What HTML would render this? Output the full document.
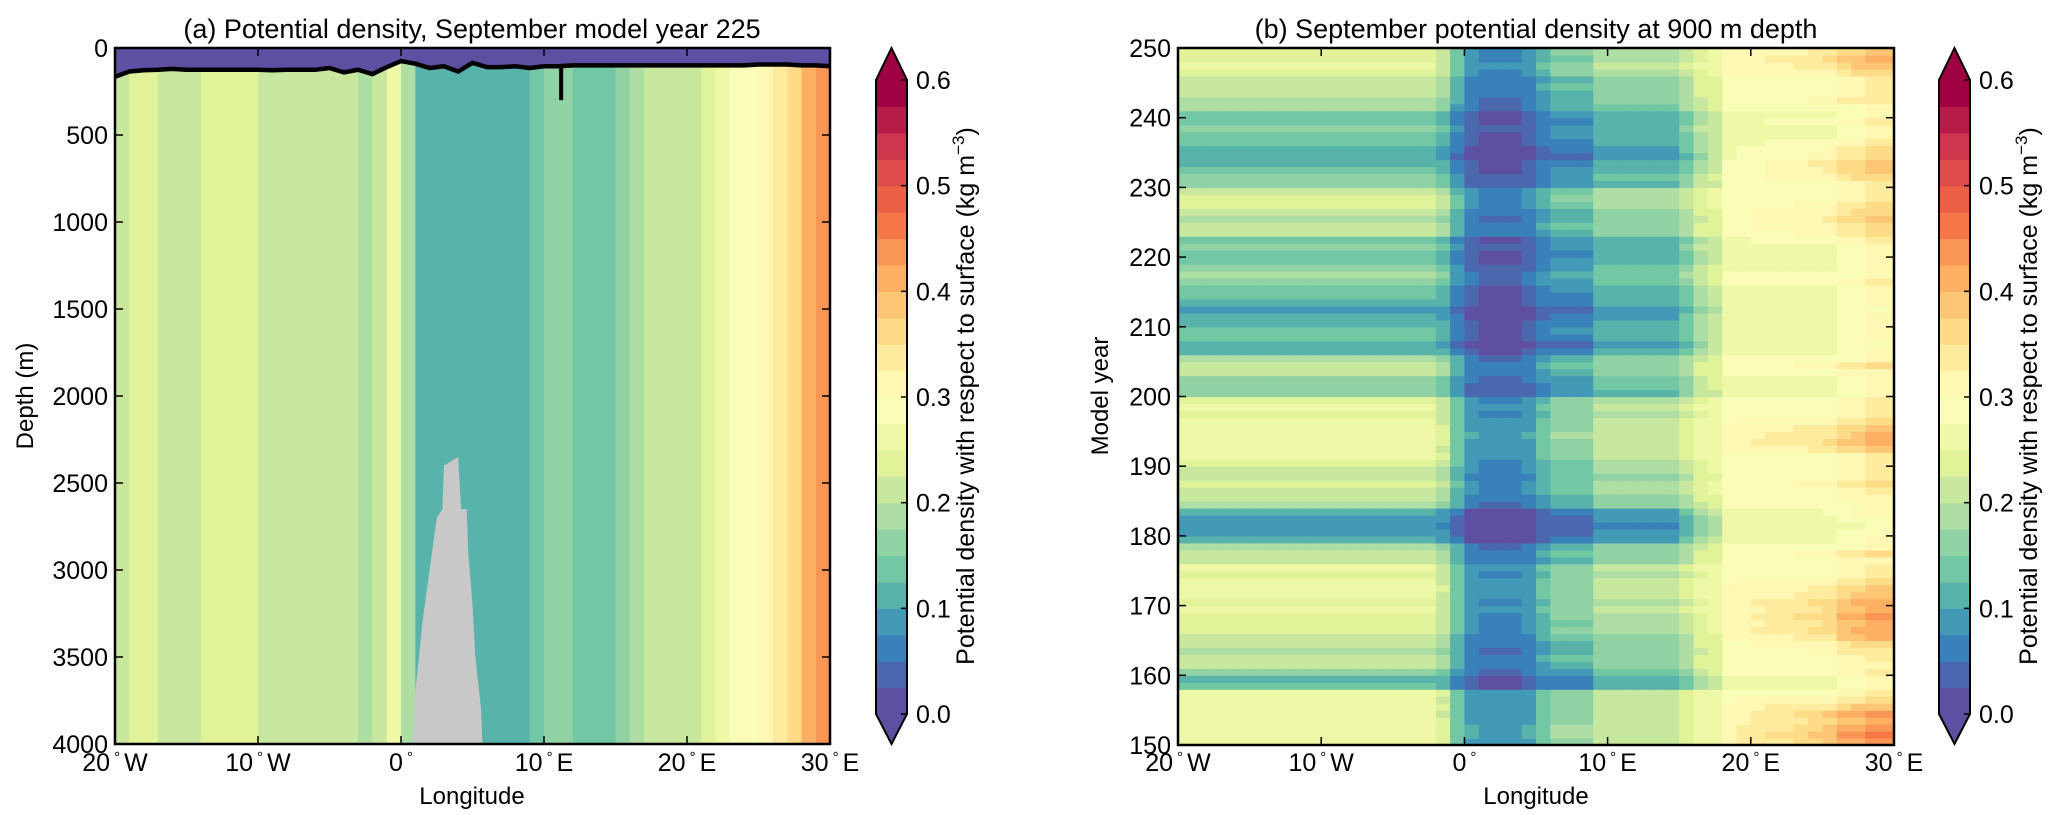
<!DOCTYPE html>
<html><head><meta charset="utf-8"><style>
html,body{margin:0;padding:0;background:#fff;}
svg{display:block;font-family:"Liberation Sans",sans-serif;}
</style></head><body>
<svg id="fig" width="2067" height="827" viewBox="0 0 2067 827" xmlns="http://www.w3.org/2000/svg">
<g id="pa"></g>
<g id="pb"></g>
</svg>
<script>
// ---- data: panel (a) ----
const lonA = [-20,-19,-18,-17,-16,-15,-14,-13,-12,-11,-10,-9,-8,-7,-6,-5,-4,-3,-2,-1,0,1,2,3,4,5,6,7,8,9,10,11,12,13,14,15,16,17,18,19,20,21,22,23,24,25,26,27,28,29];
const rhoA = [0.2,0.24,0.23,0.21,0.21,0.21,0.24,0.24,0.24,0.24,0.21,0.21,0.21,0.21,0.21,0.21,0.2,0.19,0.21,0.26,0.18,0.11,0.1,0.1,0.1,0.1,0.11,0.11,0.11,0.13,0.17,0.16,0.13,0.13,0.14,0.16,0.18,0.2,0.21,0.22,0.22,0.23,0.25,0.28,0.3,0.31,0.34,0.37,0.4,0.43];
const mldLon = [-20,-19,-18,-17,-16,-15,-14,-13,-12,-11,-10,-9,-8,-7,-6,-5,-4,-3,-2,-1,0,1,2,3,4,5,6,7,8,9,10,11,12,13,14,15,16,17,18,19,20,21,22,23,24,25,26,27,28,29,30];
const mldDepth = [165,135,128,125,120,125,125,125,125,125,125,128,125,125,125,115,140,125,150,110,75,90,115,105,135,85,110,110,105,115,105,105,100,100,100,100,100,100,100,100,100,100,100,100,100,95,95,95,100,100,105];
const bathyLon = [0.8,1.0,1.5,2.0,2.5,2.9,3.0,4.0,4.2,4.6,4.7,5.0,5.2,5.6,5.7];
const bathyDepth = [4000,3700,3300,3000,2700,2650,2400,2350,2650,2650,2900,3200,3500,3800,4000];
// ---- data: panel (b) ----
const lonB = lonA;
const baseB = [0.27,0.27,0.27,0.27,0.27,0.27,0.27,0.27,0.27,0.27,0.27,0.27,0.27,0.27,0.27,0.27,0.27,0.27,0.24,0.15,0.1,0.09,0.09,0.09,0.1,0.14,0.18,0.18,0.18,0.22,0.22,0.22,0.22,0.22,0.22,0.24,0.26,0.27,0.3,0.3,0.3,0.3,0.3,0.3,0.3,0.3,0.32,0.32,0.34,0.34];
const wB = [1,1,1,1,1,1,1,1,1,1,1,1,1,1,1,1,1,1,0.9,0.6,0.5,0.5,0.5,0.5,0.5,0.6,0.8,0.8,0.8,0.8,0.8,0.8,0.8,0.8,0.8,0.7,0.5,0.4,0.25,0.25,0.25,0.25,0.25,0.25,0.25,0.25,0.25,0.25,0.25,0.25];
const eastW = [0,0,0,0,0,0,0,0,0,0,0,0,0,0,0,0,0,0,0,0,0,0,0,0,0,0,0,0,0,0,0,0,0,0,0,0,0,0,0.2,0.3,0.4,0.5,0.5,0.6,0.7,0.8,0.9,1,1,1];
const years = [150,151,152,153,154,155,156,157,158,159,160,161,162,163,164,165,166,167,168,169,170,171,172,173,174,175,176,177,178,179,180,181,182,183,184,185,186,187,188,189,190,191,192,193,194,195,196,197,198,199,200,201,202,203,204,205,206,207,208,209,210,211,212,213,214,215,216,217,218,219,220,221,222,223,224,225,226,227,228,229,230,231,232,233,234,235,236,237,238,239,240,241,242,243,244,245,246,247,248,249];
const anomB = [-0.01,0,0,-0.01,-0.02,-0.01,-0.02,-0.01,-0.14,-0.15,-0.1,-0.07,-0.06,-0.08,-0.07,-0.06,-0.03,-0.04,-0.03,-0.02,-0.03,-0.02,-0.01,-0.02,-0.03,-0.02,-0.07,-0.06,-0.08,-0.16,-0.18,-0.19,-0.18,-0.16,-0.08,-0.07,-0.05,-0.04,-0.06,-0.05,-0.04,-0.01,-0.02,-0.01,0,-0.01,-0.02,-0.03,-0.02,-0.03,-0.12,-0.11,-0.1,-0.07,-0.06,-0.08,-0.15,-0.17,-0.14,-0.13,-0.15,-0.16,-0.18,-0.15,-0.14,-0.13,-0.1,-0.09,-0.11,-0.13,-0.14,-0.12,-0.13,-0.07,-0.06,-0.08,-0.07,-0.04,-0.03,-0.05,-0.12,-0.11,-0.13,-0.15,-0.17,-0.16,-0.14,-0.13,-0.12,-0.14,-0.13,-0.09,-0.08,-0.07,-0.06,-0.07,-0.03,-0.02,-0.04,-0.03];
const eastAnomB = [0.1,0.12,0.1,0.08,0.1,0.06,0.02,0,0,0,0.02,0,0,0.03,0.05,0.08,0.09,0.08,0.1,0.07,0.09,0.06,0.04,0.02,0,0,0,0.03,0,0,0,0,0,0.02,0,0,0,0.02,0,0,0,0,0.05,0.07,0.06,0.05,0.02,0,0,0,0,0,0,0,0.03,0,0,0,0,0,0,0,0,0,0,0,0.02,0,0,0,0,0,0.02,0.03,0.04,0.06,0.05,0.02,0,0,0.03,0.06,0.08,0.09,0.07,0.05,0.02,0,0,0.02,0,0,0.03,0.02,0,0.02,0.04,0.06,0.08,0.05];
// ---- ticks ----
const lonTicks = [-20,-10,0,10,20,30];
const lonTickLabels = ["20","10","0","10","20","30"];
const lonTickSuffix = ["W","W","","E","E","E"];
const depthTicks = [0,500,1000,1500,2000,2500,3000,3500,4000];
const yearTicks = [150,160,170,180,190,200,210,220,230,240,250];
const cbTicks = [0.0,0.1,0.2,0.3,0.4,0.5,0.6];

const NS="http://www.w3.org/2000/svg";
function mk(tag, attrs, parent){const e=document.createElementNS(NS,tag);for(const k in attrs)e.setAttribute(k,attrs[k]);parent.appendChild(e);return e;}
const anchors=["#5e4fa2","#3288bd","#66c2a5","#abdda4","#e6f598","#ffffbf","#fee08b","#fdae61","#f46d43","#d53e4f","#9e0142"];
function hex(h){return [parseInt(h.substr(1,2),16),parseInt(h.substr(3,2),16),parseInt(h.substr(5,2),16)];}
function cmap(t){t=Math.max(0,Math.min(1,t));const p=t*10,i=Math.min(9,Math.floor(p)),f=p-i;const a=hex(anchors[i]),b=hex(anchors[i+1]);return "rgb("+a.map((v,k)=>Math.round(v+(b[k]-v)*f)).join(",")+")";}
function bandColor(v){let i=Math.floor(v/0.025);i=Math.max(0,Math.min(23,i));return cmap(i/23);}

function lonTickLabel(g,x,y,i){
  const t=mk("text",{x:x,y:y,"text-anchor":"middle","font-size":"25"},g);
  
  
  const s1=document.createElementNS(NS,"tspan");s1.textContent=lonTickLabels[i];t.appendChild(s1);
  const s2=document.createElementNS(NS,"tspan");s2.textContent="\u00b0";s2.setAttribute("font-size","15");s2.setAttribute("dy","-9");s2.setAttribute("dx","4");t.appendChild(s2);
  const s3=document.createElementNS(NS,"tspan");s3.textContent=lonTickSuffix[i];s3.setAttribute("dy","9");s3.setAttribute("dx","4");t.appendChild(s3);
}

function colorbar(g,x0,x1,top,y06,y00,bot,lx){
  const cb=mk("g",{},g);
  
  
  const h=(y00-y06)/24, xm=(x0+x1)/2;
  for(let i=0;i<24;i++){
    const r=mk("rect",{x:x0,y:y00-(i+1)*h,width:x1-x0,height:h+0.6,fill:cmap(i/23)},cb);
    
    
  }
  mk("polygon",{points:`${x0},${y06} ${xm},${top} ${x1},${y06}`,fill:cmap(1)},cb);
  mk("polygon",{points:`${x0},${y00} ${xm},${bot} ${x1},${y00}`,fill:cmap(0)},cb);
  mk("polygon",{points:`${x0},${y06} ${xm},${top} ${x1},${y06} ${x1},${y00} ${xm},${bot} ${x0},${y00}`,fill:"none",stroke:"#000","stroke-width":"2"},cb);
  cbTicks.forEach(v=>{
    const y=y00-v/0.6*(y00-y06);
    mk("line",{x1:x1-6,x2:x1,y1:y,y2:y,stroke:"#000","stroke-width":"1.5"},cb);
    const t=mk("text",{x:x1+9,y:y+9,"font-size":"25"},cb);t.textContent=v.toFixed(1);
    
    
  });
  const t=mk("text",{x:lx,y:396,"font-size":"25","text-anchor":"middle",transform:`rotate(-90 ${lx} 396)`},cb);
  
  
  t.innerHTML='Potential density with respect to surface (kg m<tspan dy="-10" font-size="17">\u22123</tspan><tspan dy="10">)</tspan>';
}

// ===== Panel A =====
(function(){
  const g=document.getElementById("pa");
  const L=115,R=830,T=48,B=744;
  const xA=lon=>L+(lon+20)*(R-L)/50;
  const yA=d=>T+d*(B-T)/4000;
  mk("rect",{x:L,y:T,width:R-L,height:B-T,fill:bandColor(0.01)},g);
  lonA.forEach((lon,i)=>{
    const d=Math.min(mldDepth[i],mldDepth[i+1]);
    const r=mk("rect",{x:xA(lon),y:yA(d),width:xA(lon+1)-xA(lon)+0.5,height:B-yA(d),fill:bandColor(rhoA[i])},g);
    
    
  });
  let pts=mldLon.map((l,i)=>`${xA(l)},${yA(mldDepth[i])}`);
  const poly=mk("polygon",{points:`${xA(-20)},${T} ${pts.join(" ")} ${xA(30)},${T}`,fill:bandColor(0.01)},g);
  
  
  let bp=[];bathyLon.forEach((l,i)=>{bp.push(`${xA(l)},${yA(bathyDepth[i])}`);});
  const bath=mk("polygon",{points:bp.join(" "),fill:"#c8c8c8"},g);
  
  
  const ml=mk("polyline",{points:pts.join(" "),fill:"none",stroke:"#000","stroke-width":"4.5","stroke-linejoin":"round"},g);
  
  
  const sp=mk("line",{x1:xA(11.2),x2:xA(11.2),y1:yA(100),y2:yA(300),stroke:"#000","stroke-width":"4"},g);
  
  
  mk("rect",{x:L,y:T,width:R-L,height:B-T,fill:"none",stroke:"#000","stroke-width":"2.5"},g);
  lonTicks.forEach((lon,i)=>{const x=xA(lon);
    mk("line",{x1:x,x2:x,y1:B,y2:B-8,stroke:"#000","stroke-width":"1.5"},g);
    mk("line",{x1:x,x2:x,y1:T,y2:T+8,stroke:"#000","stroke-width":"1.5"},g);
    lonTickLabel(g,x,771,i);});
  depthTicks.forEach(d=>{const y=yA(d);
    mk("line",{x1:L,x2:L+8,y1:y,y2:y,stroke:"#000","stroke-width":"1.5"},g);
    mk("line",{x1:R,x2:R-8,y1:y,y2:y,stroke:"#000","stroke-width":"1.5"},g);
    const t=mk("text",{x:108,y:y+9,"text-anchor":"end","font-size":"25"},g);t.textContent=d;
    
    });
  let t=mk("text",{x:472,y:38,"text-anchor":"middle","font-size":"27"},g);t.textContent="(a) Potential density, September model year 225";
  
  t=mk("text",{x:472,y:804,"text-anchor":"middle","font-size":"24"},g);t.textContent="Longitude";
  
  t=mk("text",{x:33,y:396,"text-anchor":"middle","font-size":"24",transform:"rotate(-90 33 396)"},g);t.textContent="Depth (m)";
  
  colorbar(g,876,907,48,80,714,744,974);
})();

// ===== Panel B =====
(function(){
  const g=document.getElementById("pb");
  const L=1178,R=1894,T=48,B=745;
  const xB=lon=>L+(lon+20)*(R-L)/50;
  const yB=yr=>B-(yr-150)*(B-T)/100;
  years.forEach((yr,j)=>{
    lonB.forEach((lon,i)=>{
      const v=baseB[i]+wB[i]*anomB[j]+eastW[i]*eastAnomB[j];
      const r=mk("rect",{x:xB(lon),y:yB(yr+1),width:xB(lon+1)-xB(lon)+0.6,height:yB(yr)-yB(yr+1)+0.6,fill:bandColor(v)},g);
      
      
    });
  });
  mk("rect",{x:L,y:T,width:R-L,height:B-T,fill:"none",stroke:"#000","stroke-width":"2.5"},g);
  lonTicks.forEach((lon,i)=>{const x=xB(lon);
    mk("line",{x1:x,x2:x,y1:B,y2:B-8,stroke:"#000","stroke-width":"1.5"},g);
    mk("line",{x1:x,x2:x,y1:T,y2:T+8,stroke:"#000","stroke-width":"1.5"},g);
    lonTickLabel(g,x,771,i);});
  yearTicks.forEach(yr=>{const y=yB(yr);
    mk("line",{x1:L,x2:L+8,y1:y,y2:y,stroke:"#000","stroke-width":"1.5"},g);
    mk("line",{x1:R,x2:R-8,y1:y,y2:y,stroke:"#000","stroke-width":"1.5"},g);
    const t=mk("text",{x:1171,y:y+9,"text-anchor":"end","font-size":"25"},g);t.textContent=yr;
    
    });
  let t=mk("text",{x:1536,y:38,"text-anchor":"middle","font-size":"27"},g);t.textContent="(b) September potential density at 900 m depth";
  
  t=mk("text",{x:1536,y:804,"text-anchor":"middle","font-size":"24"},g);t.textContent="Longitude";
  
  t=mk("text",{x:1108,y:396,"text-anchor":"middle","font-size":"24",transform:"rotate(-90 1108 396)"},g);t.textContent="Model year";
  
  colorbar(g,1939,1970,48,80,714,744,2037);
})();
</script>
</body></html>
